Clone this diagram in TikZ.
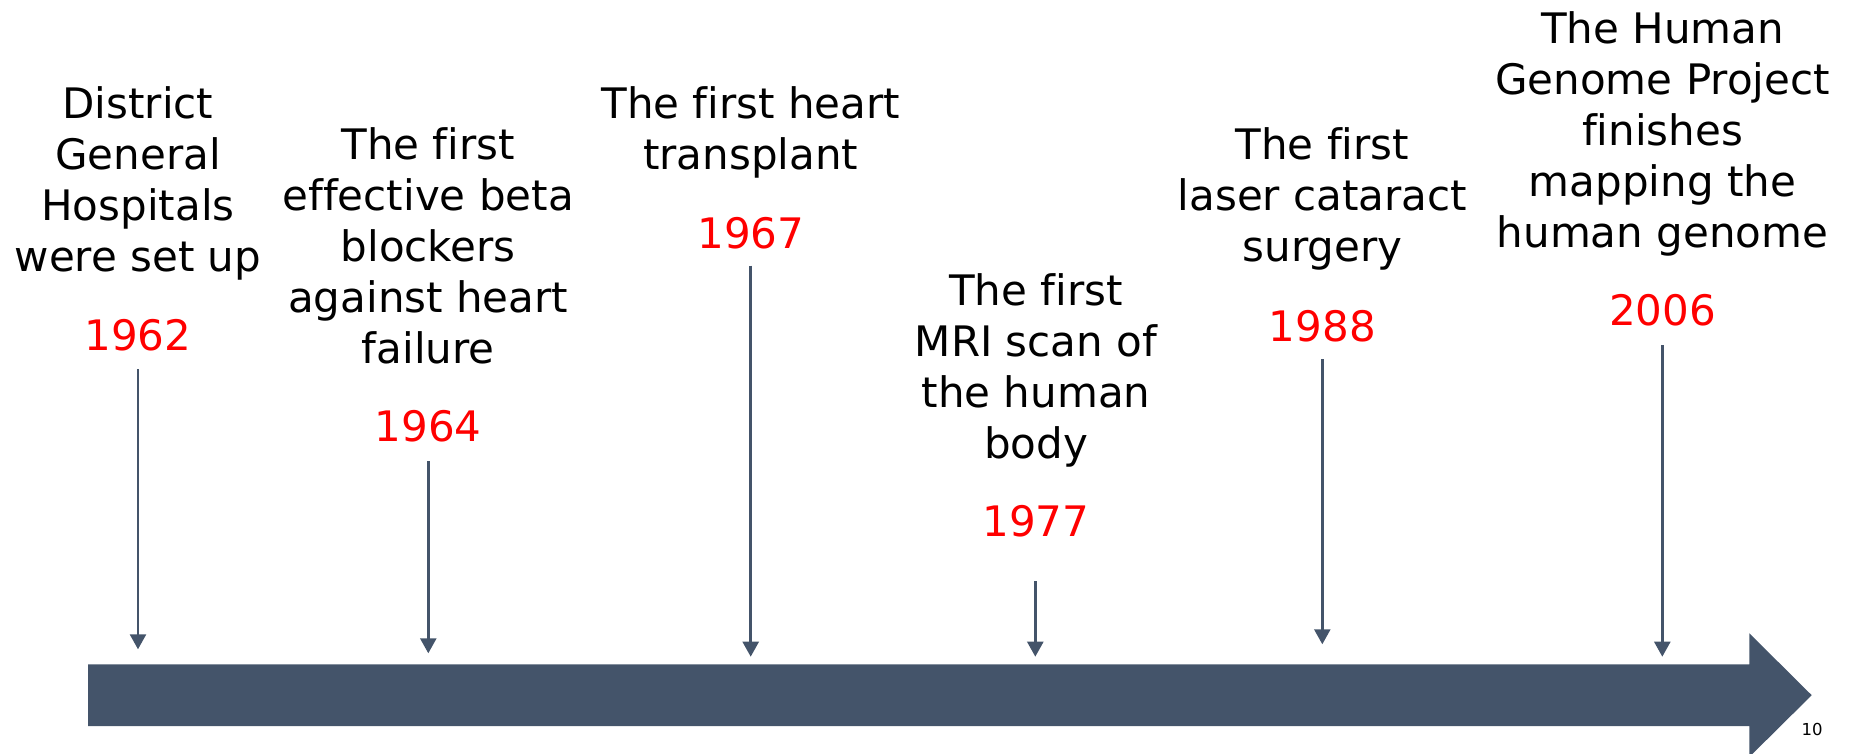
\documentclass[tikz,border=0pt]{standalone}
\usepackage{fontspec}
\setmainfont{DejaVu Sans}[Ligatures=NoCommon]
\usetikzlibrary{arrows.meta}
\definecolor{slate}{HTML}{44546A}
\definecolor{yr}{HTML}{FF0000}
\begin{document}
\begin{tikzpicture}[x=1pt,y=-1pt,
  lbl/.style={align=center,anchor=base,inner sep=0pt,font=\fontsize{42}{51}\selectfont,text=black},
  year/.style={anchor=base,inner sep=0pt,font=\fontsize{42}{51}\selectfont,text=yr},
  pointer/.style={draw=slate,line width=2.5pt,-{Triangle[width=16pt,length=15pt]}}]
\useasboundingbox (0,0) rectangle (1854,754);
% timeline arrow
\fill[slate] (88,664.3) -- (1749.3,664.3) -- (1749.3,633.3) -- (1811.7,695.2)
  -- (1749.3,757) -- (1749.3,726) -- (88,726) -- cycle;
% labels (anchored at the baseline of their last line)
\node[lbl] (t1) at (138,271.7) {District\\General\\Hospitals\\were set up};
\node[year] (y1) at (138,350.7) {1962};
\node[lbl] (t2) at (428.2,363.3) {The first\\effective beta\\blockers\\against heart\\failure};
\node[year] (y2) at (428.2,441.7) {1964};
\node[lbl] (t3) at (750.8,170) {The first heart\\transplant};
\node[year] (y3) at (750.8,248.3) {1967};
\node[lbl] (t4) at (1036,458.3) {The first\\MRI scan of\\the human\\body};
\node[year] (y4) at (1036,536) {1977};
\node[lbl] (t5) at (1322.4,261.7) {The first\\laser cataract\\surgery};
\node[year] (y5) at (1322.4,341.7) {1988};
\node[lbl] (t6) at (1662.5,247.7) {The Human\\Genome Project\\finishes\\mapping the\\human genome};
\node[year] (y6) at (1662.5,325) {2006};
\node[anchor=base,inner sep=0pt,font=\fontsize{16.5}{20}\selectfont] (pg) at (1812,735) {10};
% pointer coordinates
\coordinate (p1s) at (138,369);    \coordinate (p1e) at (138,649.3);
\coordinate (p2s) at (428.3,461);  \coordinate (p2e) at (428.3,653.3);
\coordinate (p3s) at (750.7,265.7);\coordinate (p3e) at (750.7,656.7);
\coordinate (p4s) at (1035.3,581); \coordinate (p4e) at (1035.3,656.7);
\coordinate (p5s) at (1322.3,359.3);\coordinate (p5e) at (1322.3,644.3);
\coordinate (p6s) at (1662.3,345); \coordinate (p6e) at (1662.3,656.7);
\foreach \i in {1,...,6} \draw[pointer] (p\i s) -- (p\i e);
\end{tikzpicture}
\end{document}
